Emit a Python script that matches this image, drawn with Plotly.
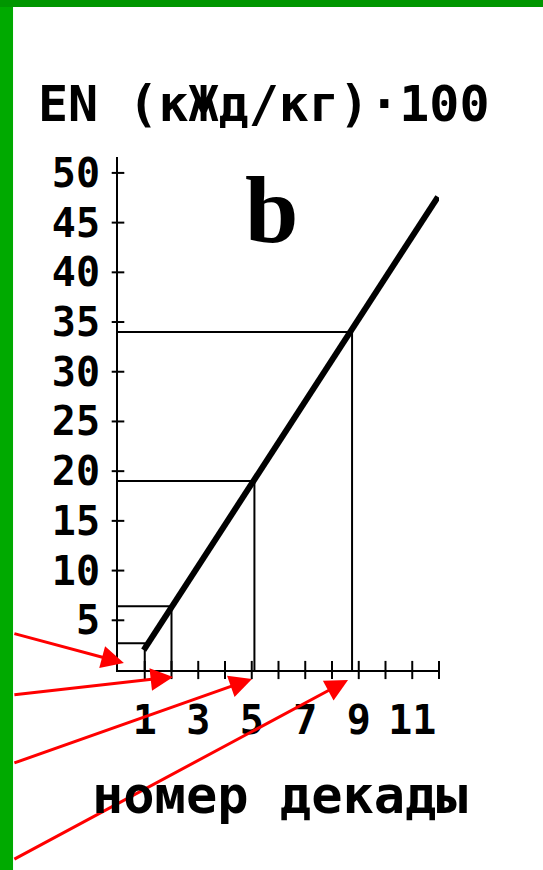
import plotly.graph_objects as go

# decade number vs EN (kJ/kg * 100)
decade = [1, 2, 5.1, 8.75]
en = [2.7, 6.4, 19.0, 34.0]

line_x = [0.96, 11.96]
line_y = [2.0, 47.6]

y_ticks = [5, 10, 15, 20, 25, 30, 35, 40, 45, 50]
x_ticks = [1, 2, 3, 4, 5, 6, 7, 8, 9, 10, 11, 12]
x_labels = [1, 3, 5, 7, 9, 11]

# red pointer arrows: tip and tail (data units)
arrow_tip_x = [0.22, 2.06, 5.01, 8.6]
arrow_tip_y = [0.7, -0.7, -0.9, -1.0]
arrow_tail_x = [-3.93, -3.93, -3.93, -3.93]
arrow_tail_y = [3.7, -2.5, -9.4, -19.1]

X_RANGE = [0, 12]
Y_RANGE = [0, 51.6]
FONT = "DejaVu Sans Mono"


def to_domain(v, rng):
    return (v - rng[0]) / (rng[1] - rng[0])


# drop lines from the curve to both axes
drop_x, drop_y = [], []
for dx, dy in zip(decade, en):
    drop_x += [0, dx, dx, None]
    drop_y += [dy, dy, 0, None]

fig = go.Figure()
fig.add_trace(go.Scatter(x=drop_x, y=drop_y, mode="lines",
                         line=dict(color="black", width=2), hoverinfo="skip"))
fig.add_trace(go.Scatter(x=line_x, y=line_y, mode="lines",
                         line=dict(color="black", width=6)))
# tick crosses on both axes
fig.add_trace(go.Scatter(x=[0] * len(y_ticks), y=y_ticks, mode="markers",
                         marker=dict(symbol="line-ew", size=9,
                                     line=dict(color="black", width=2)),
                         cliponaxis=False))
fig.add_trace(go.Scatter(x=x_ticks, y=[0] * len(x_ticks), mode="markers",
                         marker=dict(symbol="line-ns", size=13,
                                     line=dict(color="black", width=2)),
                         cliponaxis=False))

# arrows point below the axis, so place them in domain space (never hidden)
for tx, ty, ax, ay in zip(arrow_tip_x, arrow_tip_y, arrow_tail_x, arrow_tail_y):
    fig.add_annotation(x=to_domain(tx, X_RANGE), y=to_domain(ty, Y_RANGE),
                       ax=to_domain(ax, X_RANGE), ay=to_domain(ay, Y_RANGE),
                       xref="x domain", yref="y domain",
                       axref="x domain", ayref="y domain",
                       text="", showarrow=True, arrowhead=2, arrowsize=1.5,
                       arrowwidth=3, arrowcolor="#ff0000", standoff=0)

fig.add_annotation(x=0.455, y=1.1033, xref="paper", yref="paper",
                   xanchor="center", yanchor="middle",
                   text="<b>EN (кЖд/кг)·100</b>", showarrow=False,
                   font=dict(family=FONT, size=50, color="black"))
fig.add_annotation(x=0.505, y=-0.2437, xref="paper", yref="paper",
                   xanchor="center", yanchor="middle",
                   text="<b>номер декады</b>", showarrow=False,
                   font=dict(family=FONT, size=52, color="black"))
fig.add_annotation(x=5.75, y=46.3, xref="x", yref="y", text="<b>b</b>",
                   showarrow=False,
                   font=dict(family="Liberation Serif", size=96, color="black"))

fig.update_xaxes(range=X_RANGE, tickvals=x_labels, ticks="",
                 ticklabelstandoff=14, showgrid=False, zeroline=False,
                 showline=True, linecolor="black", linewidth=2,
                 tickfont=dict(family=FONT, size=40, color="black", weight="bold"))
fig.update_yaxes(range=Y_RANGE, tickvals=y_ticks, ticks="",
                 ticklabelstandoff=8, showgrid=False, zeroline=False,
                 showline=True, linecolor="black", linewidth=2,
                 tickfont=dict(family=FONT, size=40, color="black", weight="bold"))

# green frame strips on the left and top edges
fig.add_shape(type="rect", xref="paper", yref="paper", x0=-0.37, x1=-0.327,
              y0=-0.4, y1=1.31, fillcolor="#00aa00", line_width=0, layer="above")
fig.add_shape(type="rect", xref="paper", yref="paper", x0=-0.37, x1=1.33,
              y0=1.2924, y1=1.31, fillcolor="#009600", line_width=0, layer="above")

fig.update_layout(
    width=543, height=870,
    margin=dict(l=118, r=104, t=157, b=200),
    paper_bgcolor="white", plot_bgcolor="white",
    showlegend=False,
    font=dict(family=FONT, color="black"),
)
fig.write_html("out.html", config={"displayModeBar": False},
               post_script="document.body.style.margin = '0';")
